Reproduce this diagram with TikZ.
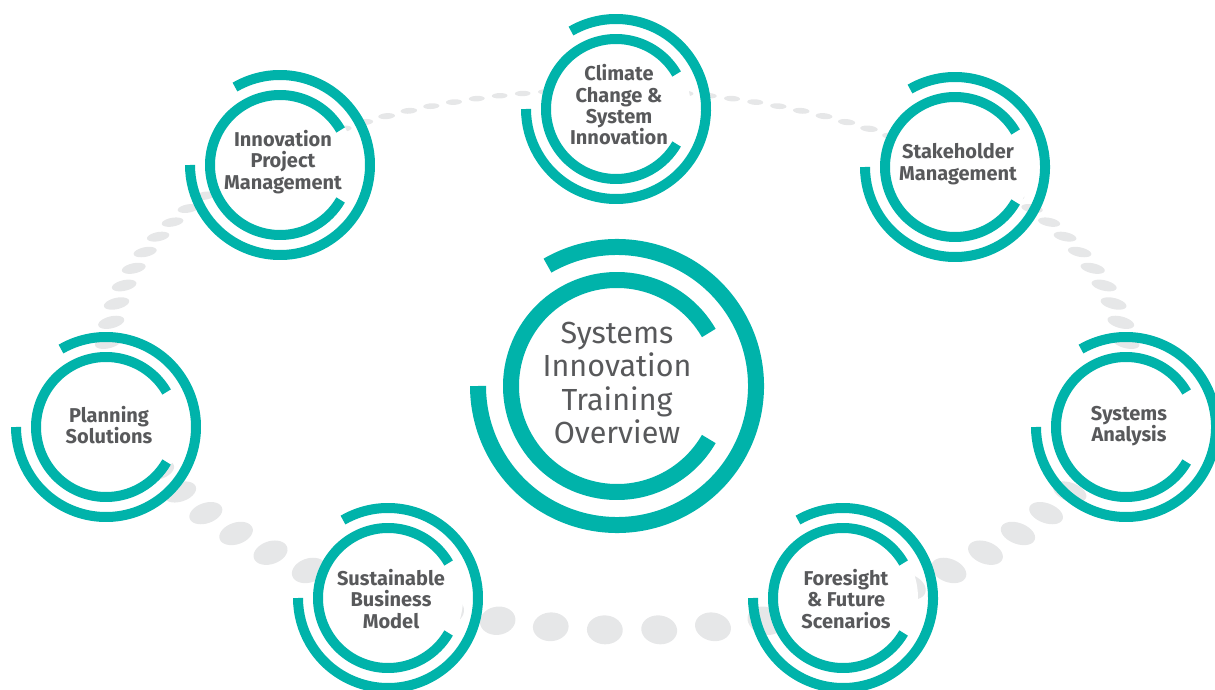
\documentclass[tikz,border=0pt]{standalone}
\usepackage{fontspec}
\setmainfont{Fira Sans}
\usetikzlibrary{calc}

\definecolor{ringteal}{HTML}{00B3AA}
\definecolor{dotgrey}{HTML}{E6E7E8}
\definecolor{textgrey}{HTML}{58595B}

\tikzset{
  ring/.style={draw=ringteal, line width=10pt},
  hubring/.style={draw=ringteal, line width=16pt},
  greydot/.style={fill=dotgrey},
  topic/.style={text=textgrey, align=center, font=\bfseries\fontsize{20}{21.3}\selectfont},
  hubtext/.style={text=textgrey, align=center, font=\fontsize{30.5}{33.2}\selectfont}
}

\begin{document}
\begin{tikzpicture}[x=1pt, y=1pt]
		\useasboundingbox (0,0) rectangle (1215,689);
		
		% Ring of dots seen in perspective
		\foreach \p in {2,6,...,358} {
			\fill[greydot] plot[variable=\t, domain=0:350, samples=36]
				({582.9+(1168*(sin(\p)+0.023*cos(\t))+73.7)/(2.5+cos(\p)+0.023*sin(\t))},
				 {1004-1417.5/(2.5+cos(\p)+0.023*sin(\t))}) -- cycle;
		}
		
		% Topic circles
		\foreach \n/\cx/\cy/\dy/\txt in {
			ipm/280/524/3/{Innovation\\Project\\Management},
			climate/616/580/4/{Climate\\Change \&\\System\\Innovation},
			stake/955/522/3/{Stakeholder\\Management},
			plan/106/262/2/{Planning\\Solutions},
			analysis/1126/262/1/{Systems\\Analysis},
			business/388/91/-1/{Sustainable\\Business\\Model},
			foresight/843/91/-1/{Foresight\\\& Future\\Scenarios}} {
			\coordinate (\n) at (\cx,\cy);
			\fill[white] (\n) circle (75);
			\draw[ring] ($(\n)+(30:70)$) arc[start angle=30, end angle=330, radius=70];
			\draw[ring] ($(\n)+(120:90)$) arc[start angle=120, end angle=-180, radius=90];
			\node[topic] (\n-text) at ($(\n)+(3,\dy)$) {\txt};
		}
		
		% Central circle
		\coordinate (hub) at (617,303);
		\draw[hubring] ($(hub)+(30:106)$) arc[start angle=30, end angle=330, radius=106];
		\draw[hubring] ($(hub)+(120:139)$) arc[start angle=120, end angle=-180, radius=139];
		\node[hubtext] (hub-text) at ($(hub)+(0,3)$) {Systems\\Innovation\\Training\\Overview};
	\end{tikzpicture}
\end{document}
